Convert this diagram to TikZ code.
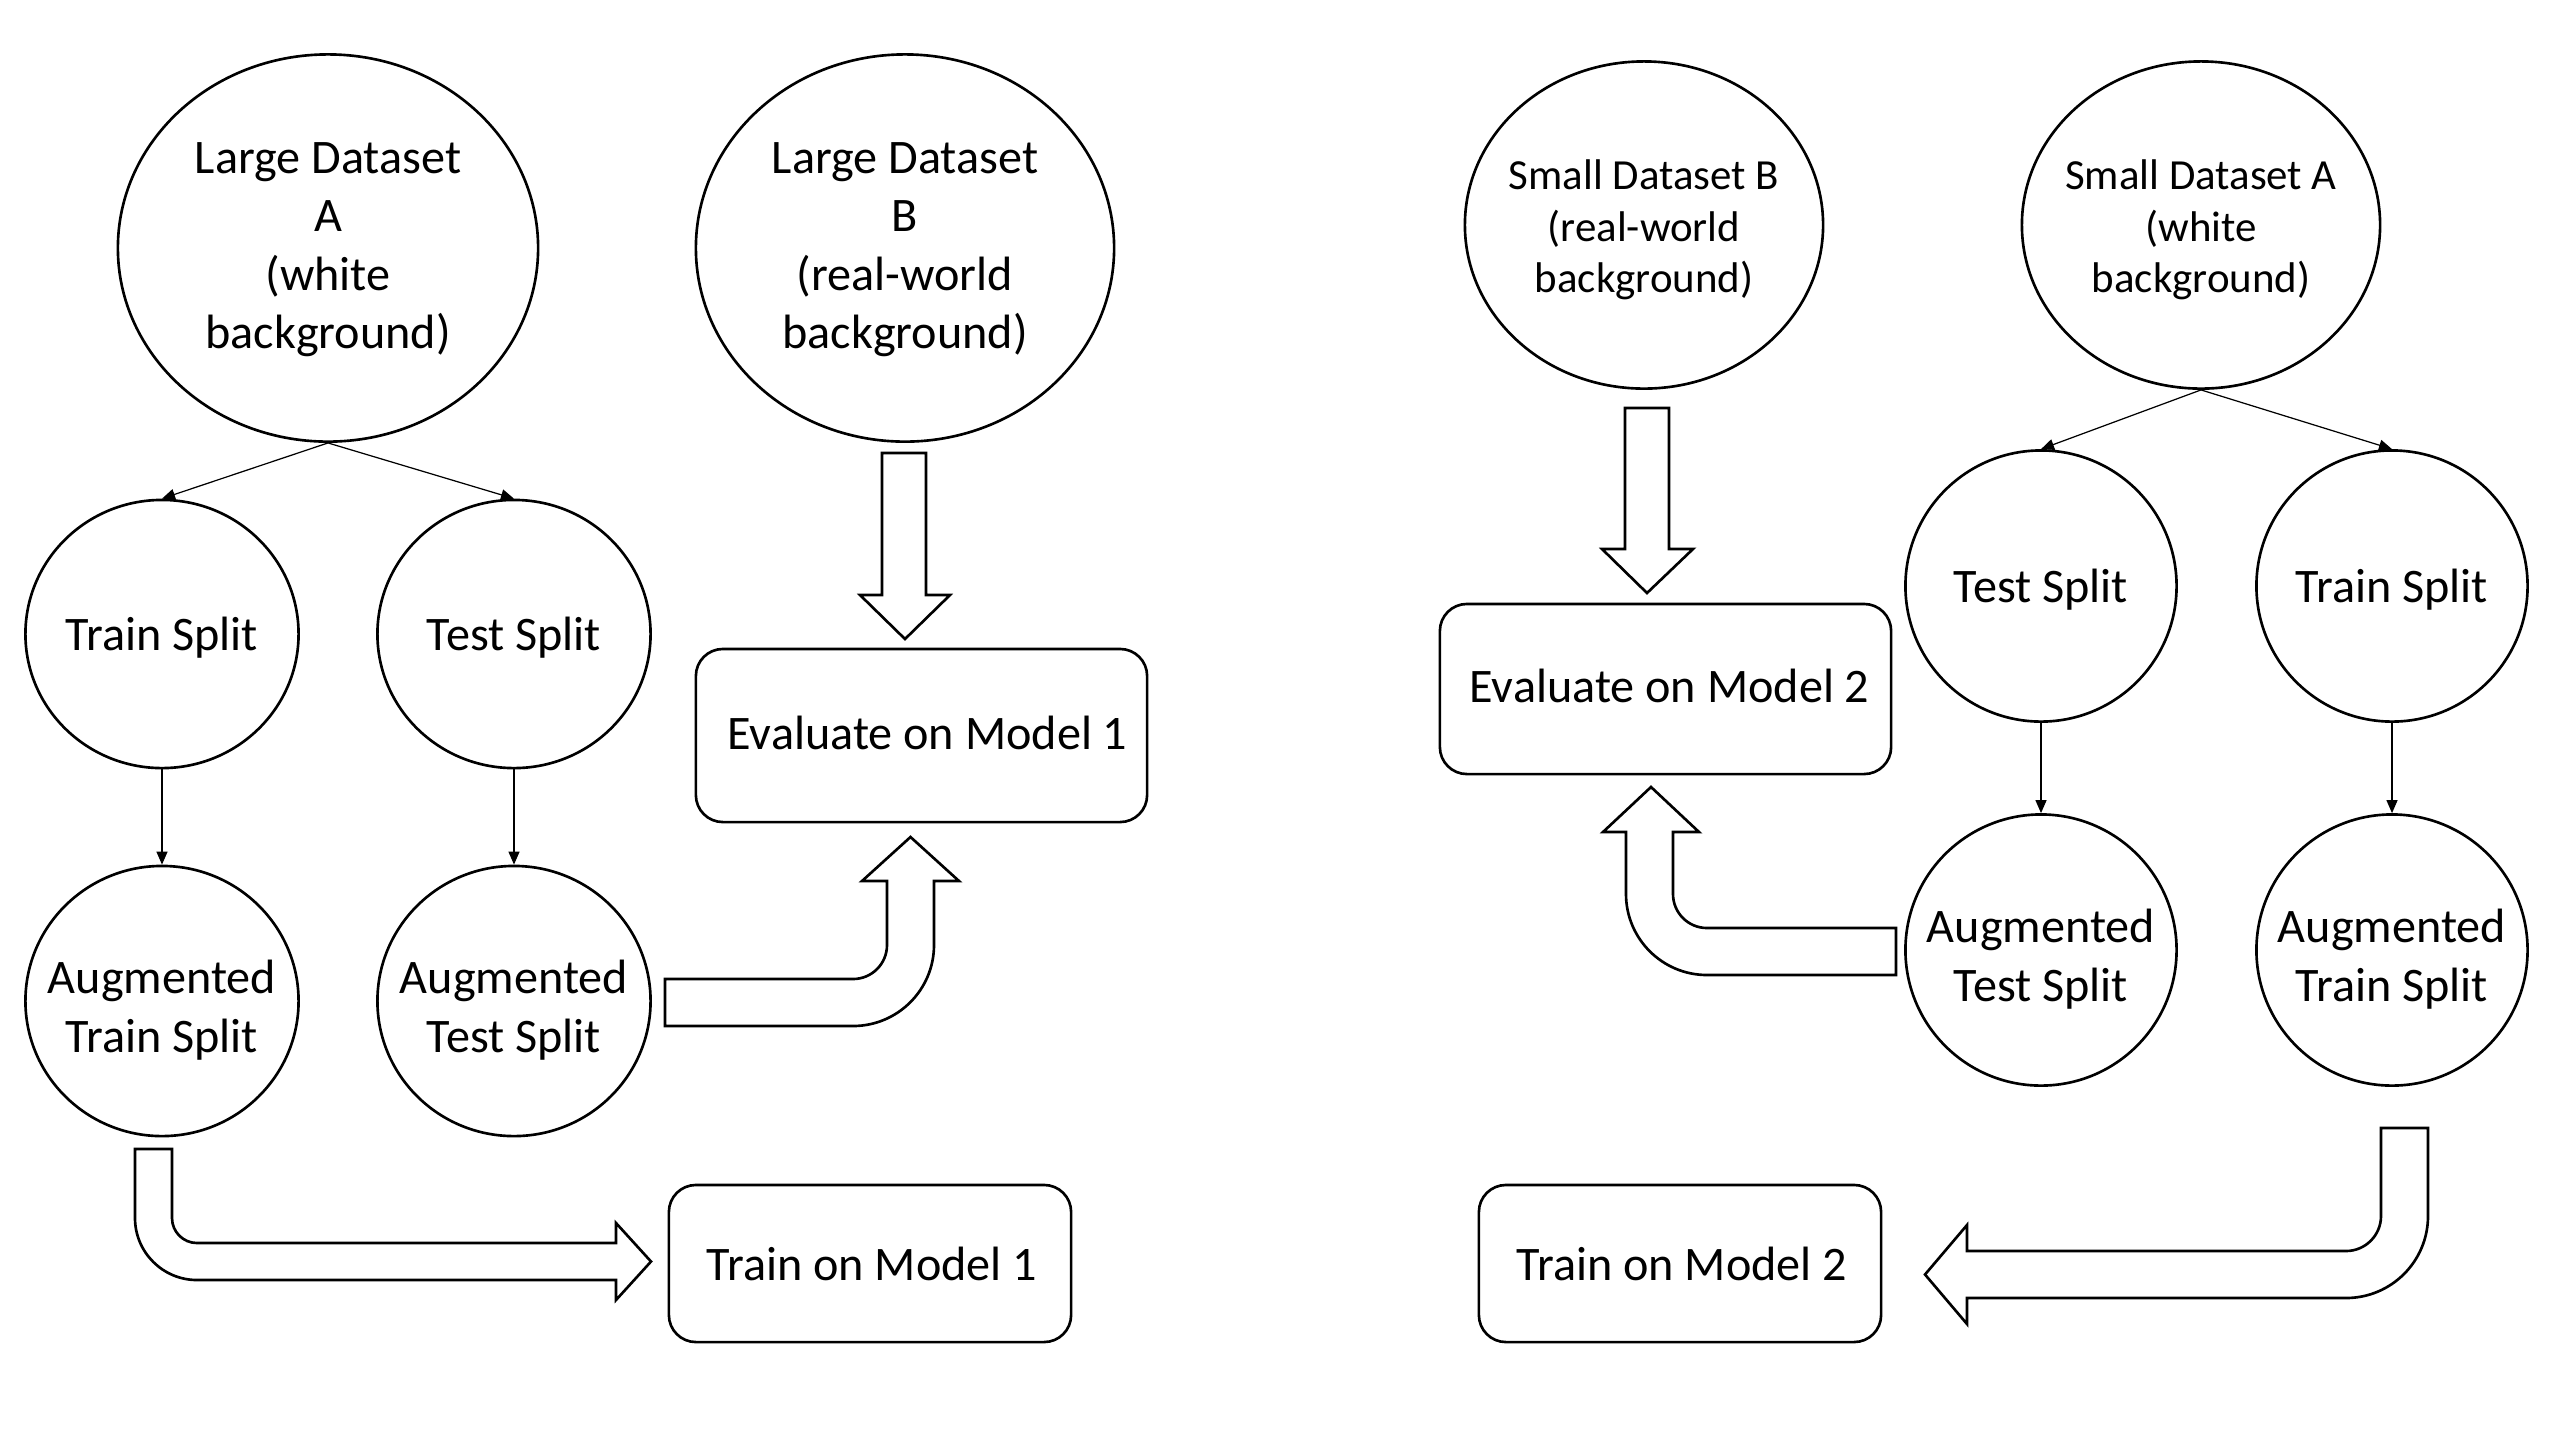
\documentclass[tikz,border=0pt]{standalone}
\usepackage{fontspec}
\setmainfont{Carlito}
\usetikzlibrary{shapes.geometric,arrows.meta}
\begin{document}
\begin{tikzpicture}[x=0.01cm,y=-0.01cm,
  bigfont/.style={font=\fontsize{13.7}{16.6}\selectfont},
  smallfont/.style={font=\fontsize{12.2}{14.6}\selectfont},
  oval/.style={ellipse,draw,line width=0.75pt,inner sep=0pt},
  lbl/.style={align=center,bigfont,inner sep=0pt,yshift=-0.04cm},
  dlbl/.style={align=center,bigfont,inner sep=0pt,yshift=-0.015cm},
  slbl/.style={align=center,smallfont,inner sep=0pt,yshift=-0.05cm},
  albl/.style={align=center,bigfont,inner sep=0pt,yshift=-0.09cm},
  rbox/.style={rectangle,rounded corners=0.27cm,draw,line width=0.75pt,inner sep=0pt,align=center,bigfont},
  thin/.style={line width=0.35pt,-{Triangle[length=1.3mm,width=1.1mm]}},
  blockarrow/.style={draw,line width=0.75pt,fill=white,line join=miter}]
\useasboundingbox (0,0) rectangle (2560,1432);
% left half
\node[oval,minimum width=4.2cm,minimum height=3.87cm,label={[dlbl]center:{Large Dataset\\A\\(white\\background)}}] (dsA) at (328,248) {};
\node[oval,minimum width=4.18cm,minimum height=3.87cm,label={[dlbl]center:{Large Dataset\\B\\(real-world\\background)}}] (dsB) at (905,248) {};
\node[oval,minimum width=2.73cm,minimum height=2.68cm,label={[lbl]center:{Train Split}}] (trainL) at (162,634) {};
\node[oval,minimum width=2.73cm,minimum height=2.68cm,label={[lbl]center:{Test Split}}] (testL) at (514,634) {};
\node[oval,minimum width=2.73cm,minimum height=2.7cm,label={[albl]center:{Augmented\\Train Split}}] (augTrainL) at (162,1001) {};
\node[oval,minimum width=2.73cm,minimum height=2.7cm,label={[albl]center:{Augmented\\Test Split}}] (augTestL) at (514,1001) {};
\node[rbox,minimum width=4.51cm,minimum height=1.73cm] (eval1) at (921.5,735.5) {\raisebox{0.06cm}{\hspace*{0.12cm}Evaluate on Model 1}};
\node[rbox,minimum width=4.02cm,minimum height=1.57cm] (train1) at (870,1263.5) {\hspace*{0.04cm}Train on Model 1};
% right half
\node[oval,minimum width=3.58cm,minimum height=3.27cm,label={[slbl]center:{Small Dataset B\\(real-world\\background)}}] (sdsB) at (1644,225) {};
\node[oval,minimum width=3.58cm,minimum height=3.27cm,label={[slbl]center:{Small Dataset A\\(white\\background)}}] (sdsA) at (2201,225) {};
\node[oval,minimum width=2.71cm,minimum height=2.71cm,label={[lbl]center:{Test Split}}] (testR) at (2041,586) {};
\node[oval,minimum width=2.71cm,minimum height=2.71cm,label={[lbl]center:{Train Split}}] (trainR) at (2392,586) {};
\node[oval,minimum width=2.71cm,minimum height=2.71cm,label={[albl]center:{Augmented\\Test Split}}] (augTestR) at (2041,950) {};
\node[oval,minimum width=2.71cm,minimum height=2.71cm,label={[albl]center:{Augmented\\Train Split}}] (augTrainR) at (2392,950) {};
\node[rbox,minimum width=4.51cm,minimum height=1.7cm] (eval2) at (1665.5,689) {\raisebox{0.06cm}{\hspace*{0.08cm}Evaluate on Model 2}};
\node[rbox,minimum width=4.02cm,minimum height=1.57cm] (train2) at (1680,1263.5) {\hspace*{0.04cm}Train on Model 2};
% thin connectors
\draw[thin] (dsA.south) -- (trainL.north);
\draw[thin] (dsA.south) -- (testL.north);
\draw[thin] (trainL.south) -- (augTrainL.north);
\draw[thin] (testL.south) -- (augTestL.north);
\draw[thin] (sdsA.south) -- (testR.north);
\draw[thin] (sdsA.south) -- (trainR.north);
\draw[thin] (testR.south) -- (augTestR.north);
\draw[thin] (trainR.south) -- (augTrainR.north);
% block arrows
\draw[blockarrow] (882,453) -- (926,453) -- (926,595) -- (950,595) -- (905,639) -- (860,595) -- (882,595) -- cycle;
\draw[blockarrow] (1625,408) -- (1669,408) -- (1669,549) -- (1693,549) -- (1647,593) -- (1602,549) -- (1625,549) -- cycle;
\draw[blockarrow] (665,979) -- (853,979) .. controls (871.8,979) and (887,963.8) .. (887,945) -- (887,881) -- (862,881) -- (910.5,837) -- (959,881) -- (934,881) -- (934,945) .. controls (934,989.7) and (897.7,1026) .. (853,1026) -- (665,1026) -- cycle;
\draw[blockarrow] (135,1149) -- (172,1149) -- (172,1218) .. controls (172,1231.8) and (183.2,1243) .. (197,1243) -- (616,1243) -- (616,1223) -- (651,1261.5) -- (616,1300) -- (616,1280) -- (197,1280) .. controls (162.8,1280) and (135,1252.2) .. (135,1218) -- cycle;
\draw[blockarrow] (1896,928) -- (1707,928) .. controls (1688.2,928) and (1673,912.8) .. (1673,894) -- (1673,832) -- (1699,832) -- (1651,787) -- (1603,832) -- (1626,832) -- (1626,894) .. controls (1626,938.7) and (1662.3,975) .. (1707,975) -- (1896,975) -- cycle;
\draw[blockarrow] (2381,1128) -- (2428,1128) -- (2428,1216) .. controls (2428,1261.3) and (2391.3,1298) .. (2346,1298) -- (1967,1298) -- (1967,1324) -- (1925,1274.5) -- (1967,1225) -- (1967,1251) -- (2346,1251) .. controls (2365.3,1251) and (2381,1235.3) .. (2381,1216) -- cycle;
\end{tikzpicture}
\end{document}
